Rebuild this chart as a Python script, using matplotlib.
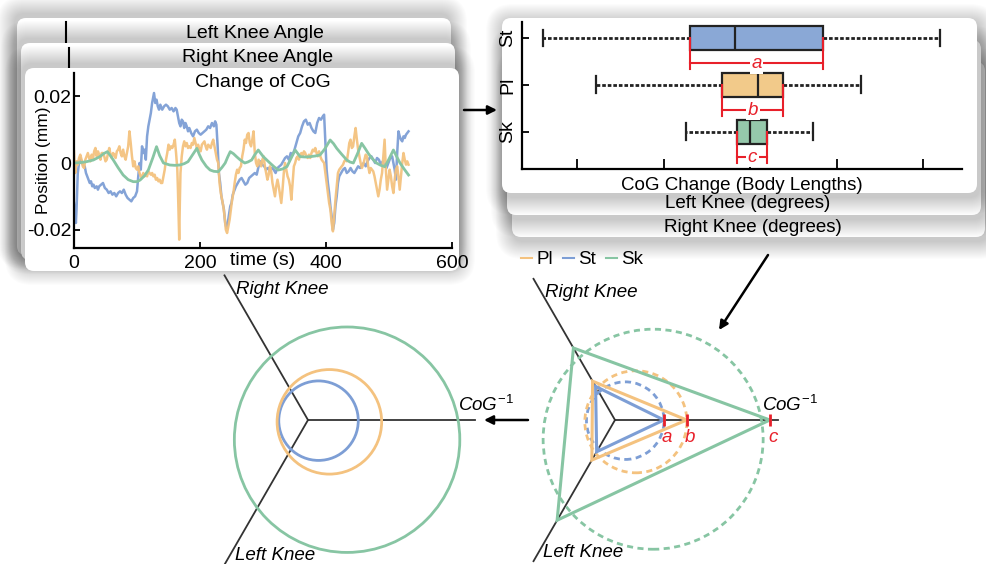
import numpy as np
import matplotlib
matplotlib.use('Agg')
import matplotlib.pyplot as plt
from matplotlib.patches import FancyBboxPatch, Circle

plt.rcParams['font.family'] = ['Liberation Sans', 'DejaVu Sans']
plt.rcParams['mathtext.fontset'] = 'custom'
plt.rcParams['mathtext.rm'] = 'Liberation Sans'
plt.rcParams['mathtext.it'] = 'Liberation Sans:italic'
plt.rcParams['axes.unicode_minus'] = False

# ---------------------------------------------------------------- data
groups = ['St', 'Pl', 'Sk']
colors = {'St': '#7D9ED5', 'Pl': '#F4C27F', 'Sk': '#87C5A3'}
box_fill = {'St': '#8AA8D6', 'Pl': '#F2CA8A', 'Sk': '#95C8AB'}

# change of CoG time series: (time s, position in 1e-3 mm)
st_series = [(0,-12),(2,-16),(3,-18),(4,-14),(5,-8),(6,-3),(8,0),(10,1.5),(12,0.5),(14,-0.5),(17,-1),(19,-3),
             (21,-4),(23,-5),(25,-6),(27,-5.5),(29,-7),(31,-6.5),(33,-7.5),(36,-7),(38,-8),(40,-7),(43,-6.5),
             (46,-6),(49,-7.5),(52,-8),(55,-9),(58,-8.5),(61,-9.5),(64,-9),(67,-10),(70,-9),(73,-8.5),(76,-9),
             (79,-8),(82,-9.5),(85,-10.5),(88,-11),(91,-11.5),(94,-10.5),(97,-10),(100,-8.5),(102,-4),(104,0),
             (106,-2),(108,5),(110,3),(112,4),(114,1),(116,8),(118,11),(120,13),(122,15),(124,18),(126,20),
             (127,21),(129,18),(131,19),(133,17),(135,16),(137,17.5),(140,16),(143,17),(146,17.5),(149,17),
             (152,16),(155,16.5),(158,15.5),(161,16.5),(163,16),(165,14),(167,12),(169,11),(171,13),(173,12.5),
             (175,10.5),(177,12),(179,11),(181,9.5),(183,10.5),(186,9),(189,8),(192,9.5),(195,10),(198,9),
             (201,8.5),(204,9),(207,9.5),(210,10),(213,11),(216,10.5),(219,12),(222,11),(224,12.5),(226,11.5),
             (228,5),(230,-3),(232,-6),(234,-10),(236,-12),(238,-14),(240,-18),(242,-19.5),(244,-18),(246,-15.5),
             (248,-13),(250,-12),(252,-9.5),(254,-8.5),(257,-7),(260,-6),(263,-5),(266,-4.5),(269,-5.5),(272,-6.5),
             (275,-6),(278,-4.5),(281,-4),(284,-3.5),(287,-3),(290,-3.5),(293,-1),(296,0.5),(299,-0.5),(302,-1),
             (305,-2),(308,-1.5),(311,-2.5),(314,-1.5),(317,-2),(320,-3),(323,-1.5),(326,-1),(329,-0.5),(332,0.5),
             (335,1.5),(338,2),(341,1),(344,3),(347,2.5),(350,4),(353,6),(356,8),(359,9),(362,11),(365,12.5),
             (368,13),(371,11.5),(374,12),(377,10.5),(380,9.5),(383,9),(386,12),(389,13.5),(392,13),(395,14),
             (397,14.5),(399,6),(401,-2),(403,-6),(405,-9),(407,-13),(409,-16),(411,-20),(413,-18),(415,-13),
             (417,-10),(419,-6),(421,-4),(424,-3),(427,-2),(430,-1.5),(433,-3),(436,-2.5),(439,-1.5),(442,-2.5),
             (445,-3),(448,-2),(451,-1),(454,-1.5),(457,-0.5),(460,0),(463,-1),(466,0.5),(469,1.5),(472,2),(475,1),
             (478,0),(481,1.5),(484,1),(487,-0.5),(490,0.5),(493,-1),(496,-1.5),(499,0),(502,1.5),(505,2),(507,0),
             (509,-2),(511,-5),(513,3),(515,9.5),(517,8),(519,7),(521,6.5),(523,8),(525,7.5),(527,8.5),(529,9),
             (531,9.5)]
pl_series = [(0,3.5),(1,-1),(2,-3),(4,0.5),(6,-0.5),(8,1.5),(10,2.5),(12,1),(14,-1),(16,-1.5),(18,1),(20,2),
             (22,3),(24,1.5),(26,0.5),(28,2.5),(30,1),(32,3.5),(34,4.5),(36,2),(38,3.5),(40,2.5),(42,1),(44,3),
             (46,3),(48,2),(50,0.5),(52,1),(54,3),(56,4.5),(58,2.5),(60,1.5),(62,3),(64,2.5),(66,1.5),(68,3.5),
             (70,4),(72,5),(74,3),(76,2),(78,4),(80,2),(82,1),(84,3),(86,5),(88,9.5),(90,6),(92,2),(94,-1),
             (96,0.5),(98,-1.5),(100,-2),(102,-1),(104,-3),(106,-4),(108,-4.5),(110,-3),(112,-4),(114,-3.5),
             (116,-4),(118,-2.5),(120,-3),(122,-3.5),(124,-3),(126,-4),(128,-3.5),(130,-5),(132,-4.5),(134,-5.5),
             (136,-5),(138,-6),(140,-6),(142,-4),(144,-2),(146,1),(148,3),(150,5.5),(152,4),(154,5),(156,4.5),
             (158,5.5),(160,7),(162,3),(164,-2),(165,-8),(166,-16),(167,-23),(168,-12),(169,-3),(171,2),(173,5),
             (175,6.5),(177,5),(179,6),(181,4.5),(183,5),(185,4.5),(187,6),(189,5.5),(191,7.5),(193,6),(195,4.5),
             (197,5.5),(199,4),(201,3.5),(203,5.5),(205,6),(207,6.5),(209,5),(211,4),(213,5.5),(215,5),(217,4.5),
             (219,6),(221,7),(223,5),(225,3),(227,1),(229,0),(231,-6),(233,-9),(235,-11),(237,-13),(239,-16),
             (241,-20),(243,-21),(245,-19),(247,-17),(249,-14),(251,-11),(253,-9),(255,-6),(257,-3.5),(259,-2),
             (261,-3),(263,-1.5),(265,-1),(267,2),(269,4),(271,7),(273,6),(275,8.5),(277,9),(279,6),(281,5),
             (283,7),(285,9.5),(287,3),(289,0),(291,-1),(293,1),(295,0),(297,-1),(299,1),(301,2),(303,-1),
             (305,-3),(307,-5),(309,-3.5),(311,-1),(313,-2.5),(315,-6),(317,-8),(319,-10),(321,-7),(323,-5),
             (325,-7),(327,-9.5),(329,-12),(331,-8),(333,-3),(335,0),(337,-2),(339,-4),(341,-5),(343,-7),
             (345,-11),(347,-6),(349,-1),(351,0),(353,1.5),(355,2),(357,1),(359,2.5),(361,3),(363,2),(365,3.5),
             (367,3),(369,2),(371,1.5),(373,2.5),(375,1.5),(377,3),(379,4),(381,3.5),(383,4.5),(385,3),(387,2),
             (389,3.5),(391,2),(393,1),(395,0.5),(397,0),(399,-3),(401,-6),(403,-9),(405,-12),(407,-14),
             (409,-18),(411,-20.5),(413,-16),(415,-11),(417,-7),(419,-3),(421,-2),(423,-1.5),(425,-1),
             (427,-0.5),(429,0.5),(431,1),(433,0.5),(435,3),(437,6),(439,7),(441,4.5),(443,5),(445,8),
             (447,10.5),(449,7),(451,4),(453,2),(455,0),(457,-1.5),(459,-0.5),(461,1),(463,2.5),(465,2),
             (467,-1),(469,-3),(471,-1.5),(473,-2),(475,-2.5),(477,-4),(479,-6),(481,-8),(483,-10),(485,-8),
             (487,-5),(489,-3),(491,2),(493,7),(495,-2),(497,-8),(499,-5),(501,-2),(503,-4),(505,-7),(507,-9),
             (509,-5),(511,-2),(513,-1),(515,-4),(517,-8),(519,-4),(521,0),(523,3),(525,1),(527,-0.5),
             (529,0.5),(531,-0.5)]
sk_series = [(0,0),(9.5,0.1),(20,0.4),(30.7,0.9),(41,1.9),(47,2.8),(53,3.4),(57,2.4),(62.4,0.9),(70,-1.4),
             (78,-3.6),(86,-5),(94,-5.6),(100,-5.6),(105,-5.1),(112,-3.8),(118,-2.1),(125,1.5),(131,4.9),
             (136,2.2),(142,0),(152,-0.6),(160,-0.7),(168,-0.6),(175,-0.2),(181,0.4),(188,2.4),(195,4.4),
             (199,2.5),(203,0.9),(210,-1),(216,-2.1),(222,-2.5),(229,-2.6),(235,-1.3),(240,0),(244,1.8),
             (248,3.4),(253,2.8),(258,1.9),(264,0.9),(271,0),(276,0.3),(282,0.9),(287,2.5),(292.5,3.9),
             (296,3),(300.5,1.9),(306,0.9),(311,0),(318,-1.2),(324.5,-2.1),(331,-1.8),(338,-1.1),(344,1.2),
             (351,3.9),(355,2.9),(359,1.9),(367,1.8),(375,1.9),(383,2.1),(390.5,2.4),(398,4.2),(406.6,6.9),
             (412,5.8),(417,4.4),(425,2.6),(433,0.9),(438,0.3),(443.4,0),(450,2.8),(456.6,5.9),(462,4.4),
             (467,2.9),(473,1.4),(480,0),(487,-0.7),(493.5,-1.1),(500,1.2),(507,3.9),(512,2),(517.5,0),
             (524,-1.8),(531,-3.6)]
ts_xticks = [0, 200, 400, 600]
ts_yticks = [0.02, 0, -0.02]
ts_ytick_labels = ['0.02', '0', '-0.02']

# CoG change box statistics (body-length units, tick spacing 1)
box_whislo = [0.61, 1.22, 2.26]
box_q1 = [2.31, 2.68, 2.85]
box_med = [2.83, 3.09, 3.00]
box_q3 = [3.84, 3.38, 3.20]
box_whishi = [5.20, 4.28, 3.73]
box_pos = [3, 2, 1]
box_xticks = [1, 2, 3, 4, 5]
iqr_letters = ['a', 'b', 'c']

# radar: CoG^-1 (0 deg), Right Knee (120 deg), Left Knee (240 deg); normalised radius
radar_angles_deg = [0, 120, 240]
radar_St = [0.300, 0.238, 0.225]
radar_Pl = [0.440, 0.275, 0.284]
radar_Sk = [0.950, 0.510, 0.710]
# fitted circles (centre x, centre y, radius) for St, Pl, Sk
circle_cx = [0.063, 0.128, 0.234]
circle_cy = [-0.004, -0.011, -0.118]
circle_r = [0.238, 0.313, 0.675]

# ---------------------------------------------------------------- figure
W, H = 986, 564
fig = plt.figure(figsize=(W / 100, H / 100), dpi=100)


def fbox(x0, y0, x1, y1):
    return [x0 / W, 1 - y1 / H, (x1 - x0) / W, (y1 - y0) / H]


bg = fig.add_axes([0, 0, 1, 1], zorder=0)
bg.set_xlim(0, W)
bg.set_ylim(H, 0)
bg.axis('off')


def card(x0, y0, x1, y1, z, off, n=18, alpha=0.013, r=9):
    for k in range(n, 0, -1):
        bg.add_patch(FancyBboxPatch((x0 + off[0] - k, y0 + off[1] - k), x1 - x0 + 2 * k, y1 - y0 + 2 * k,
                                    boxstyle=f'round,pad=0,rounding_size={r + k}', fc='black', ec='none',
                                    alpha=alpha, zorder=z - 0.5))
    bg.add_patch(FancyBboxPatch((x0, y0), x1 - x0, y1 - y0, boxstyle=f'round,pad=0,rounding_size={r}',
                                fc='white', ec='none', zorder=z))


FS = 14
# left stack
card(17, 18, 451, 255, 1, (-2, -4))
bg.plot([66, 66], [22, 60], color='black', lw=1.5, zorder=1.1)
bg.text(255, 33, 'Left Knee Angle', ha='center', va='center', fontsize=FS, zorder=1.2)
card(21, 43, 455, 260, 2, (-2, -4))
bg.plot([69, 69], [48, 85], color='black', lw=1.5, zorder=2.1)
bg.text(258, 58, 'Right Knee Angle', ha='center', va='center', fontsize=FS, zorder=2.2)
card(25, 68, 459, 271, 3, (-2, -4))

# right stack
card(512, 62, 985, 237, 1, (2, 4))
bg.text(753, 227, 'Right Knee (degrees)', ha='center', va='center', fontsize=13.5, zorder=1.2)
card(507, 40, 981, 215, 2, (2, 4))
bg.text(748, 204, 'Left Knee (degrees)', ha='center', va='center', fontsize=13.5, zorder=2.2)
card(502, 18, 977, 193, 3, (2, 4))

# arrows
arw = dict(arrowstyle='-|>', lw=1.8, color='black', mutation_scale=13, shrinkA=0, shrinkB=0)
bg.annotate('', xy=(497, 110), xytext=(464, 110), arrowprops=arw, zorder=5)
bg.annotate('', xy=(719, 330), xytext=(768, 255), arrowprops=arw, zorder=5)
bg.annotate('', xy=(484, 420), xytext=(528, 420), arrowprops=arw, zorder=5)

# ---------------------------------------------------------------- time series
ax = fig.add_axes(fbox(74, 73, 452, 248), zorder=2)
ax.patch.set_alpha(0)
for name, ser, lw, a in [('St', st_series, 1.8, 0.95), ('Pl', pl_series, 1.8, 0.95), ('Sk', sk_series, 2.0, 1.0)]:
    t, v = np.array(ser).T
    ax.plot(t, v * 1e-3, color=colors[name], lw=lw, alpha=a, solid_joinstyle='round')
ax.set_xlim(0, 600)
ax.set_ylim(-0.0255, 0.027)
for s in ['top', 'right']:
    ax.spines[s].set_visible(False)
for s in ['left', 'bottom']:
    ax.spines[s].set_linewidth(1.6)
ax.set_xticks(ts_xticks)
ax.set_xticklabels([str(x) for x in ts_xticks])
ax.set_yticks(ts_yticks)
ax.set_yticklabels(ts_ytick_labels)
ax.tick_params(direction='in', length=4, width=1.3, labelsize=FS)
ax.tick_params(axis='x', pad=5)
ax.tick_params(axis='y', pad=2)
ax.text(0.499, 0.943, 'Change of CoG', transform=ax.transAxes, ha='center', va='center', fontsize=FS)
ax.text(0.499, -0.074, 'time (s)', transform=ax.transAxes, ha='center', va='center', fontsize=FS)
ax.text(-0.082, 0.5, 'Position (mm)', transform=ax.transAxes, rotation=90, ha='center', va='center',
        fontsize=12.5)

# ---------------------------------------------------------------- box plot
bx = fig.add_axes(fbox(522, 22, 962, 169), zorder=2)
bx.patch.set_alpha(0)
stats = []
for i, g in enumerate(groups):
    stats.append(dict(label=g, whislo=box_whislo[i], q1=box_q1[i], med=box_med[i], q3=box_q3[i],
                      whishi=box_whishi[i], fliers=[]))
ink = '#222222'
bp = bx.bxp(stats, positions=box_pos, widths=0.52, orientation='horizontal', patch_artist=True,
            showfliers=False, capwidths=0.36,
            boxprops=dict(lw=1.6, edgecolor=ink),
            whiskerprops=dict(ls=(0, (1.3, 0.7)), lw=2, color=ink),
            capprops=dict(lw=1.6, color=ink),
            medianprops=dict(lw=1.6, color=ink))
for patch, g in zip(bp['boxes'], groups):
    patch.set_facecolor(box_fill[g])
red = '#E8202A'
for i, g in enumerate(groups):
    p, q1, q3 = box_pos[i], box_q1[i], box_q3[i]
    bx.plot([q1, q1], [p, p - 0.67], color=red, lw=1.5, zorder=3)
    bx.plot([q3, q3], [p, p - 0.67], color=red, lw=1.5, zorder=3)
    bx.plot([q1, q3], [p - 0.54, p - 0.54], color=red, lw=1.5, zorder=3)
    bx.text((q1 + q3) / 2, p - 0.54, iqr_letters[i], color=red, style='italic', ha='center', va='center',
            fontsize=13.5, zorder=4, bbox=dict(fc='white', ec='none', pad=1.2))
bx.set_xlim(0.364, 5.45)
bx.set_ylim(0.21, 3.34)
for s in ['top', 'right']:
    bx.spines[s].set_visible(False)
for s in ['left', 'bottom']:
    bx.spines[s].set_linewidth(1.6)
bx.set_xticks(box_xticks)
bx.set_xticklabels([])
bx.set_yticks(box_pos)
bx.set_yticklabels(groups, rotation=90, va='center')
bx.tick_params(direction='in', width=1.3, labelsize=FS)
bx.tick_params(axis='x', length=7)
bx.tick_params(axis='y', length=5, pad=4)
bx.set_xlabel('CoG Change (Body Lengths)', fontsize=13.5, labelpad=2)

# ---------------------------------------------------------------- radar diagrams
ang = np.deg2rad(radar_angles_deg)


def radar(cx, cy, s, dashed):
    L = 1.12
    a = fig.add_axes(fbox(cx - L * s, cy - L * s, cx + L * s, cy + L * s), zorder=3)
    a.set_xlim(-L, L)
    a.set_ylim(-L, L)
    a.axis('off')
    for th in ang:
        a.plot([0, np.cos(th)], [0, np.sin(th)], color='#333333', lw=1.3, zorder=1, clip_on=False)
    for i, g in enumerate(groups):
        c = Circle((circle_cx[i], circle_cy[i]), circle_r[i], fill=False, ec=colors[g], lw=2.0,
                   ls=(0, (2.2, 1.6)) if dashed else '-', zorder=2, clip_on=False)
        a.add_patch(c)
    a.text(-0.43, 0.78, 'Right Knee', style='italic', ha='left', va='center', fontsize=13.5)
    a.text(-0.44, -0.81, 'Left Knee', style='italic', ha='left', va='center', fontsize=13.5)
    a.text(0.90, 0.09, r'$\mathit{CoG}^{\mathit{-1}}$', ha='left', va='center', fontsize=13.5)
    return a


radar(308, 420, 167, dashed=False)
rr = radar(615, 420, 163, dashed=True)
tri = {'St': radar_St, 'Pl': radar_Pl, 'Sk': radar_Sk}
handles = {}
for g in ['Sk', 'Pl', 'St']:
    r = np.array(tri[g] + tri[g][:1])
    th = np.append(ang, ang[0])
    handles[g], = rr.plot(r * np.cos(th), r * np.sin(th), color=colors[g], lw=2.2, zorder=3, clip_on=False,
                          label=g, solid_joinstyle='miter')
cog_vals = [radar_St[0], radar_Pl[0], radar_Sk[0]]
rr.plot(cog_vals, np.zeros(3), ls='none', marker='|', ms=9, mew=2, color=red, zorder=4)
for v, lt in zip(cog_vals, iqr_letters):
    rr.text(v + 0.02, -0.105, lt, color=red, style='italic', ha='center', va='center', fontsize=13.5)

leg = fig.legend([handles[g] for g in ['Pl', 'St', 'Sk']], ['Pl', 'St', 'Sk'], loc='upper left',
                 bbox_to_anchor=(521 / W, 1 - 251 / H), ncol=3, frameon=False, fontsize=13.5,
                 handlelength=0.6, handletextpad=0.2, columnspacing=0.55, borderpad=0, borderaxespad=0)
for l in leg.get_lines():
    l.set_linewidth(1.5)

fig.savefig('out.png', dpi=100)
